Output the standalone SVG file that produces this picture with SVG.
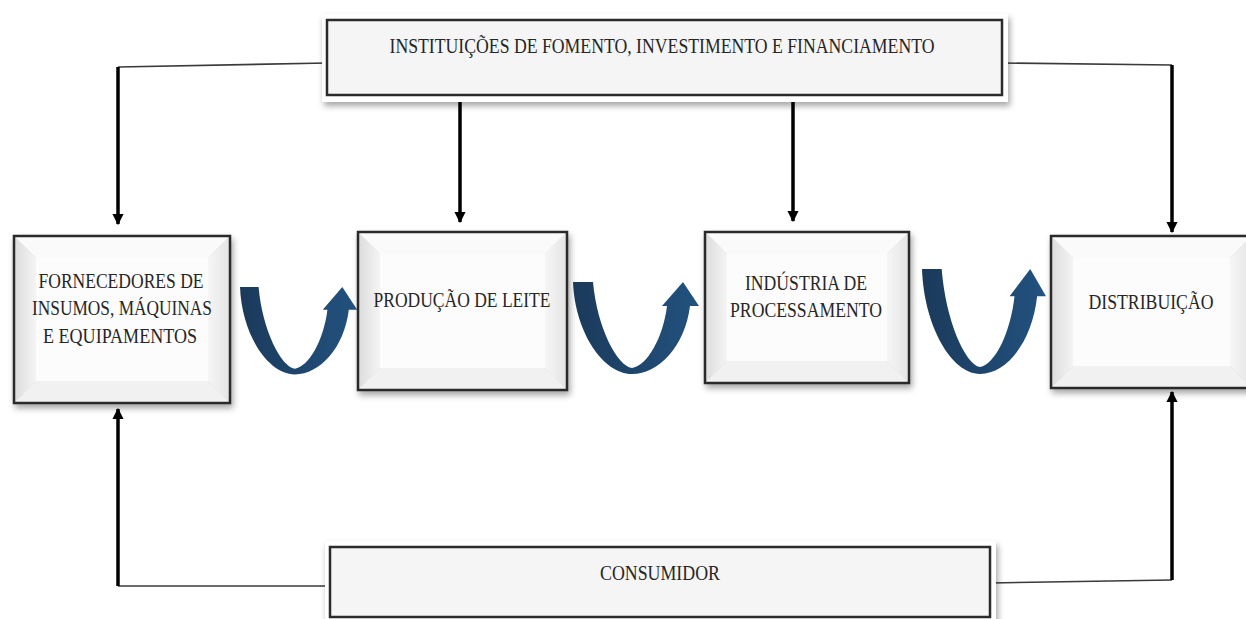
<svg xmlns="http://www.w3.org/2000/svg" width="1246" height="619" viewBox="0 0 1246 619">
  <style>
    .lbl { font-family: "Liberation Serif", "Times New Roman", serif; font-size: 22px; fill: #262626; text-anchor: middle; }
    .frame { fill: none; stroke: #2b2b2b; stroke-width: 2.5; }
    .bt { fill: #fafafa; }
    .bl { fill: url(#bevL); }
    .br { fill: url(#bevR); }
    .bb { fill: #f1f1f1; }
    .bc { fill: #fcfcfc; }
    .wide { fill: #f5f5f5; stroke: #2b2b2b; stroke-width: 2.5; }
    .glow { fill: #ffffff; }
    .thin { fill: none; stroke: #3a3a3a; stroke-width: 1.6; }
    .thick { fill: none; stroke: #000; stroke-width: 3.5; }
    .curl { fill: url(#blue); }
  </style>
  <defs>
    <filter id="shadow" x="-10%" y="-10%" width="125%" height="130%">
      <feDropShadow dx="2" dy="4" stdDeviation="3" flood-color="#000" flood-opacity="0.35"/>
    </filter>
    <linearGradient id="blue" x1="0" y1="0" x2="1" y2="0">
      <stop offset="0" stop-color="#1b3a5b"/>
      <stop offset="1" stop-color="#22527f"/>
    </linearGradient>
    <linearGradient id="bevL" x1="0" y1="0" x2="1" y2="0">
      <stop offset="0" stop-color="#dcdcdc"/>
      <stop offset="1" stop-color="#f4f4f4"/>
    </linearGradient>
    <linearGradient id="bevR" x1="1" y1="0" x2="0" y2="0">
      <stop offset="0" stop-color="#e4e4e4"/>
      <stop offset="1" stop-color="#f6f6f6"/>
    </linearGradient>
    <marker id="head" viewBox="0 0 10 10" refX="9" refY="5" markerWidth="3.2" markerHeight="3.2" orient="auto" markerUnits="strokeWidth">
      <path d="M0 0 L10 5 L0 10 Z" fill="#000"/>
    </marker>
    <!-- U-shaped curved arrow, drawn in a 126 x 92 local frame -->
    <path id="curl" d="M0 0 L20 0 C24 45 44 84 59 86 C74 84 90 56 94 24 L89 24 L110 0 L126 24 L117 24 C112 64 86 92 59 92 C30 92 2 50 0 0 Z"/>
  </defs>

  <rect width="1246" height="619" fill="#ffffff"/>

  <!-- connectors -->
  <g id="connectors">
    <path class="thin" d="M327 63 L118 67"/>
    <path class="thick" d="M118 67 L118 224" marker-end="url(#head)"/>
    <path class="thick" d="M460 100 L460 222" stroke-width="3" marker-end="url(#head)"/>
    <path class="thick" d="M793 100 L793 221" stroke-width="5" marker-end="url(#head)"/>
    <path class="thin" d="M1002 63 L1172 65"/>
    <path class="thick" d="M1172 65 L1172 232" marker-end="url(#head)"/>
    <path class="thin" d="M330 586 L118 586"/>
    <path class="thick" d="M118 586 L118 409" marker-end="url(#head)"/>
    <path class="thin" d="M990 583 L1172 580"/>
    <path class="thick" d="M1172 580 L1172 392" marker-end="url(#head)"/>

    <use href="#curl" class="curl" transform="translate(240 287) scale(0.93 0.95)"/>
    <use href="#curl" class="curl" transform="translate(573 282)"/>
    <use href="#curl" class="curl" transform="translate(922 269) scale(0.984 1.14)"/>
  </g>

  <!-- funding institutions -->
  <g id="fomento">
    <rect class="glow" x="322" y="14" width="686" height="88" filter="url(#shadow)"/>
    <rect class="wide" x="327" y="20" width="675" height="75"/>
    <text class="lbl" x="662" y="53" textLength="545" lengthAdjust="spacingAndGlyphs">INSTITUIÇÕES DE FOMENTO, INVESTIMENTO E FINANCIAMENTO</text>
  </g>

  <!-- suppliers -->
  <g id="fornecedores" filter="url(#shadow)">
    <polygon class="bt" points="14,236 230,236 208,258 36,258"/>
    <polygon class="bl" points="14,236 36,258 36,381 14,403"/>
    <polygon class="br" points="230,236 230,403 208,381 208,258"/>
    <polygon class="bb" points="14,403 36,381 208,381 230,403"/>
    <rect class="bc" x="36" y="258" width="172" height="123"/>
    <rect class="frame" x="14" y="236" width="216" height="167"/>
  </g>
  <g>
    <text class="lbl" x="121" y="288" textLength="165" lengthAdjust="spacingAndGlyphs">FORNECEDORES DE</text>
    <text class="lbl" x="122" y="315" textLength="180" lengthAdjust="spacingAndGlyphs">INSUMOS, MÁQUINAS</text>
    <text class="lbl" x="120" y="343" textLength="154" lengthAdjust="spacingAndGlyphs">E EQUIPAMENTOS</text>
  </g>

  <!-- milk production -->
  <g id="producao" filter="url(#shadow)">
    <polygon class="bt" points="358,232 567,232 545,254 380,254"/>
    <polygon class="bl" points="358,232 380,254 380,368 358,390"/>
    <polygon class="br" points="567,232 567,390 545,368 545,254"/>
    <polygon class="bb" points="358,390 380,368 545,368 567,390"/>
    <rect class="bc" x="380" y="254" width="165" height="114"/>
    <rect class="frame" x="358" y="232" width="209" height="158"/>
  </g>
  <text class="lbl" x="462" y="307" textLength="177" lengthAdjust="spacingAndGlyphs">PRODUÇÃO DE LEITE</text>

  <!-- processing industry -->
  <g id="industria" filter="url(#shadow)">
    <polygon class="bt" points="705,232 909,232 887,254 727,254"/>
    <polygon class="bl" points="705,232 727,254 727,361 705,383"/>
    <polygon class="br" points="909,232 909,383 887,361 887,254"/>
    <polygon class="bb" points="705,383 727,361 887,361 909,383"/>
    <rect class="bc" x="727" y="254" width="160" height="107"/>
    <rect class="frame" x="705" y="232" width="204" height="151"/>
  </g>
  <g>
    <text class="lbl" x="806" y="290" textLength="122" lengthAdjust="spacingAndGlyphs">INDÚSTRIA DE</text>
    <text class="lbl" x="806" y="317" textLength="152" lengthAdjust="spacingAndGlyphs">PROCESSAMENTO</text>
  </g>

  <!-- distribution -->
  <g id="distribuicao" filter="url(#shadow)">
    <polygon class="bt" points="1051,236 1252,236 1230,258 1073,258"/>
    <polygon class="bl" points="1051,236 1073,258 1073,366 1051,388"/>
    <polygon class="br" points="1252,236 1252,388 1230,366 1230,258"/>
    <polygon class="bb" points="1051,388 1073,366 1230,366 1252,388"/>
    <rect class="bc" x="1073" y="258" width="157" height="108"/>
    <rect class="frame" x="1051" y="236" width="201" height="152"/>
  </g>
  <text class="lbl" x="1151" y="309" textLength="125" lengthAdjust="spacingAndGlyphs">DISTRIBUIÇÃO</text>

  <!-- consumer -->
  <g id="consumidor">
    <rect class="glow" x="325" y="541" width="671" height="82" filter="url(#shadow)"/>
    <rect class="wide" x="330" y="547" width="660" height="70"/>
    <text class="lbl" x="660" y="580" textLength="120" lengthAdjust="spacingAndGlyphs">CONSUMIDOR</text>
  </g>
</svg>
